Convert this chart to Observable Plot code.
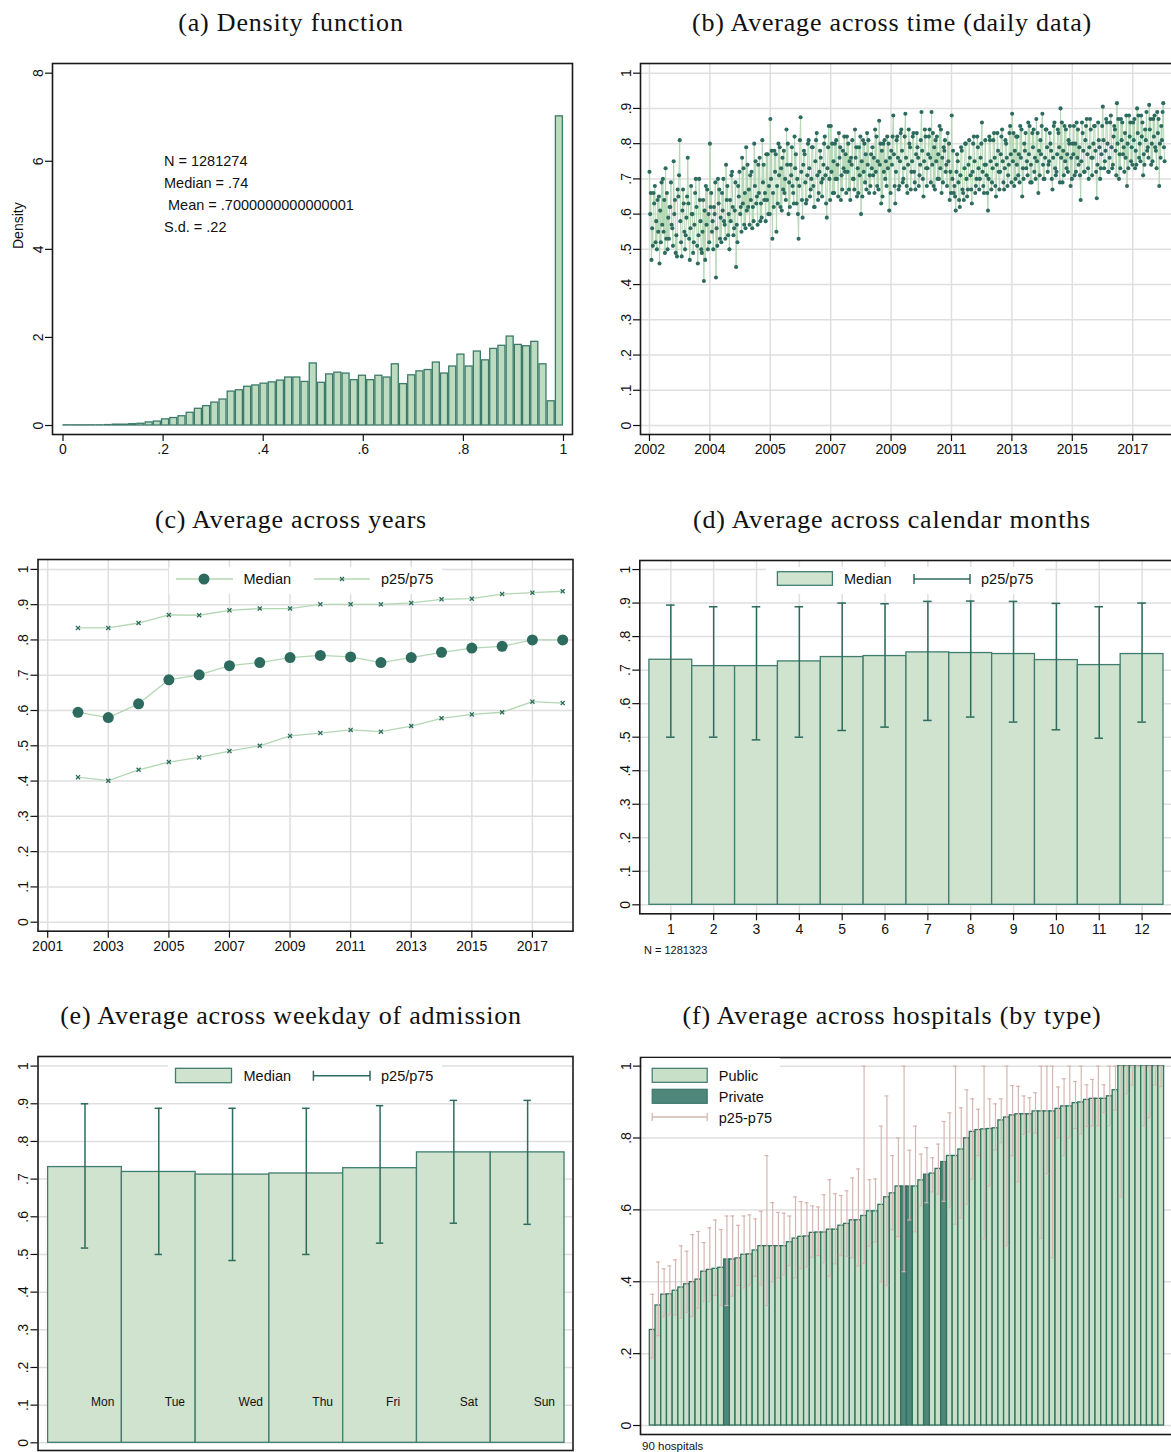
<!DOCTYPE html>
<html><head><meta charset="utf-8">
<script src="https://cdn.jsdelivr.net/npm/d3@7"></script>
<script src="https://cdn.jsdelivr.net/npm/@observablehq/plot@0.6"></script>
<style>
html,body{margin:0;padding:0;background:#fff;overflow:hidden;width:1171px;height:1452px}
#page{position:relative;width:1171px;height:1452px;overflow:hidden;font-family:"Liberation Sans",Arial,sans-serif;color:#111}
.title{position:absolute;font-family:"Liberation Serif","Times New Roman",serif;font-size:26px;letter-spacing:0.8px;white-space:nowrap;transform:translateX(-50%);line-height:30px;color:#111}
.txt{position:absolute;white-space:pre;font-size:14.5px;line-height:18px;color:#111}
</style></head><body><div id="page"></div>
<script>
// ---------------- DATA ----------------
// (a) histogram, 61 equal bins on [0,1]
const histBinCount = 61;
const densityValues = [0.005,0.005,0.005,0.005,0.005,0.01,0.02,0.02,0.03,0.04,
  0.07,0.09,0.14,0.17,0.21,0.29,0.38,0.44,0.52,0.59,
  0.77,0.80,0.88,0.91,0.95,0.98,1.02,1.09,1.09,0.99,
  1.41,0.97,1.16,1.20,1.18,1.03,1.13,1.03,1.13,1.09,
  1.39,0.94,1.14,1.23,1.26,1.43,1.18,1.34,1.61,1.34,
  1.68,1.48,1.74,1.81,2.02,1.83,1.80,1.90,1.39,0.55,7.02];
const densityStats = ["N = 1281274", "Median = .74", " Mean = .7000000000000001", "S.d. = .22"];
const densityXTicks = [0, 0.2, 0.4, 0.6, 0.8, 1];
const densityXLabels = ["0", ".2", ".4", ".6", ".8", "1"];
const densityYTicks = [0, 2, 4, 6, 8];
const densityYLabels = ["0", "2", "4", "6", "8"];

const shareTicks = [0, 0.1, 0.2, 0.3, 0.4, 0.5, 0.6, 0.7, 0.8, 0.9, 1];
const shareLabels = ["0", ".1", ".2", ".3", ".4", ".5", ".6", ".7", ".8", ".9", "1"];

// (b) daily averages (read approximately), days since start of 2002.
// Three interleaved readings of the cloud: its extremes, its core, and its middle band.
const dailyLastDay = 6200;
const dailySpread = [
  0.72,0.47,0.66,0.52,0.64,0.46,0.69,0.55,0.73,0.50,0.62,0.57,0.75,0.49,0.67,0.81,0.48,0.63,0.54,0.76,0.47,0.60,0.52,0.70,0.46,0.64,0.49,0.41,0.68,0.50,
  0.80,0.55,0.62,0.42,0.70,0.53,0.66,0.58,0.74,0.54,0.64,0.72,0.56,0.45,0.68,0.60,0.76,0.57,0.79,0.62,0.71,0.56,0.80,0.63,0.74,0.58,0.81,0.64,0.77,0.60,
  0.87,0.53,0.78,0.55,0.80,0.62,0.76,0.66,0.84,0.60,0.74,0.68,0.82,0.63,0.53,0.875,0.59,0.77,0.64,0.81,0.67,0.79,0.62,0.83,0.66,0.76,0.70,0.82,0.59,0.85,
  0.85,0.66,0.80,0.70,0.83,0.64,0.78,0.72,0.82,0.67,0.76,0.70,0.84,0.65,0.79,0.60,0.81,0.69,0.83,0.66,0.77,0.71,0.84,0.68,0.865,0.63,0.80,0.70,0.82,0.61,
  0.78,0.88,0.63,0.82,0.68,0.84,0.70,0.885,0.66,0.80,0.72,0.83,0.67,0.79,0.71,0.89,0.65,0.82,0.73,0.84,0.89,0.68,0.81,0.70,0.85,0.66,0.79,0.72,0.83,0.64,
  0.88,0.66,0.61,0.75,0.62,0.78,0.64,0.80,0.67,0.76,0.63,0.82,0.68,0.79,0.70,0.86,0.66,0.74,0.61,0.81,0.69,0.83,0.65,0.78,0.72,0.84,0.67,0.80,0.71,0.85,
  0.885,0.68,0.82,0.71,0.85,0.65,0.80,0.73,0.86,0.69,0.83,0.72,0.87,0.66,0.81,0.885,0.70,0.84,0.74,0.80,0.67,0.86,0.72,0.83,0.90,0.69,0.85,0.73,0.81,0.68,
  0.80,0.71,0.86,0.74,0.64,0.83,0.72,0.87,0.70,0.84,0.76,0.85,0.645,0.81,0.73,0.905,0.75,0.86,0.72,0.88,0.74,0.84,0.915,0.70,0.87,0.77,0.83,0.68,0.88,0.75,
  0.86,0.73,0.90,0.76,0.88,0.71,0.84,0.78,0.91,0.74,0.87,0.79,0.89,0.68,0.85,0.915];
const dailyCore = [
  0.60,0.56,0.63,0.58,0.55,0.61,0.57,0.64,0.53,0.59,0.62,0.56,0.60,0.54,0.65,0.58,0.61,0.55,0.59,0.63,0.56,0.60,0.57,0.62,0.54,0.58,0.55,0.61,0.57,0.60,
  0.62,0.58,0.60,0.56,0.63,0.59,0.61,0.57,0.64,0.60,0.58,0.62,0.61,0.57,0.65,0.62,0.63,0.66,0.61,0.67,0.64,0.62,0.68,0.65,0.66,0.63,0.69,0.66,0.64,0.68,
  0.70,0.66,0.72,0.68,0.71,0.73,0.67,0.70,0.74,0.69,0.71,0.66,0.73,0.70,0.68,0.72,0.74,0.69,0.71,0.73,0.70,0.68,0.75,0.71,0.72,0.69,0.74,0.71,0.73,0.70,
  0.72,0.75,0.70,0.74,0.76,0.71,0.73,0.77,0.72,0.75,0.74,0.70,0.76,0.73,0.71,0.75,0.72,0.77,0.74,0.71,0.73,0.76,0.72,0.75,0.74,0.78,0.72,0.75,0.73,0.76,
  0.74,0.77,0.72,0.76,0.75,0.78,0.73,0.76,0.74,0.79,0.75,0.72,0.77,0.76,0.74,0.78,0.75,0.73,0.77,0.76,0.74,0.79,0.75,0.77,0.73,0.76,0.78,0.74,0.75,0.72,
  0.70,0.68,0.72,0.69,0.71,0.67,0.73,0.70,0.74,0.71,0.72,0.75,0.70,0.73,0.76,0.72,0.74,0.71,0.70,0.75,0.73,0.76,0.74,0.72,0.77,0.75,0.73,0.76,0.74,0.77,
  0.75,0.78,0.74,0.77,0.76,0.73,0.78,0.75,0.77,0.74,0.79,0.76,0.75,0.78,0.77,0.74,0.76,0.79,0.75,0.78,0.76,0.73,0.77,0.79,0.76,0.78,0.75,0.77,0.80,0.76,
  0.77,0.80,0.76,0.79,0.75,0.78,0.81,0.77,0.79,0.76,0.80,0.78,0.74,0.79,0.77,0.81,0.78,0.80,0.76,0.79,0.82,0.78,0.80,0.77,0.81,0.79,0.76,0.80,0.82,0.79,
  0.81,0.78,0.83,0.80,0.82,0.77,0.81,0.79,0.84,0.80,0.82,0.78,0.83,0.80,0.81,0.79];
const dailyMiddle = [
  0.66,0.51,0.68,0.50,0.65,0.52,0.70,0.49,0.66,0.53,0.69,0.51,0.64,0.48,0.71,0.52,0.67,0.50,0.65,0.53,0.68,0.49,0.66,0.51,0.70,0.50,0.64,0.47,0.67,0.52,
  0.66,0.50,0.69,0.51,0.67,0.52,0.70,0.53,0.68,0.50,0.71,0.54,0.69,0.52,0.72,0.55,0.73,0.56,0.74,0.57,0.72,0.58,0.75,0.57,0.76,0.59,0.74,0.58,0.77,0.60,
  0.78,0.62,0.77,0.63,0.79,0.61,0.78,0.64,0.80,0.62,0.79,0.63,0.77,0.60,0.81,0.64,0.78,0.63,0.80,0.65,0.79,0.62,0.81,0.64,0.78,0.65,0.80,0.63,0.79,0.64,
  0.80,0.66,0.81,0.65,0.79,0.67,0.82,0.66,0.80,0.64,0.81,0.67,0.79,0.66,0.82,0.65,0.80,0.67,0.81,0.68,0.79,0.66,0.82,0.67,0.80,0.65,0.81,0.68,0.80,0.66,
  0.82,0.68,0.81,0.67,0.83,0.69,0.82,0.68,0.84,0.67,0.82,0.69,0.83,0.68,0.81,0.70,0.84,0.68,0.82,0.69,0.83,0.67,0.82,0.70,0.84,0.69,0.81,0.68,0.80,0.66,
  0.78,0.65,0.77,0.64,0.79,0.66,0.80,0.65,0.81,0.67,0.80,0.66,0.82,0.67,0.80,0.68,0.81,0.66,0.82,0.67,0.81,0.68,0.83,0.67,0.82,0.69,0.81,0.68,0.83,0.69,
  0.83,0.70,0.82,0.69,0.84,0.70,0.83,0.71,0.85,0.69,0.84,0.70,0.83,0.71,0.85,0.70,0.84,0.72,0.83,0.70,0.85,0.71,0.84,0.69,0.86,0.71,0.84,0.72,0.85,0.70,
  0.85,0.72,0.84,0.71,0.86,0.72,0.85,0.73,0.87,0.71,0.85,0.72,0.86,0.70,0.85,0.73,0.87,0.72,0.86,0.73,0.85,0.71,0.87,0.73,0.86,0.72,0.88,0.73,0.86,0.74,
  0.87,0.74,0.88,0.75,0.86,0.74,0.89,0.76,0.87,0.75,0.88,0.73,0.87,0.76,0.89,0.75];
const dailyTickDays = [0, 727, 1454, 2181, 2908, 3635, 4362, 5089, 5816];
const dailyTickLabels = ["2002", "2004", "2005", "2007", "2009", "2011", "2013", "2015", "2017"];

// (c) by year
const years = [2002,2003,2004,2005,2006,2007,2008,2009,2010,2011,2012,2013,2014,2015,2016,2017,2018];
const yearMedian = [0.595,0.580,0.619,0.687,0.701,0.727,0.736,0.750,0.756,0.752,0.736,0.750,0.765,0.777,0.782,0.800,0.800];
const yearP25 = [0.411,0.401,0.432,0.454,0.467,0.485,0.500,0.528,0.536,0.545,0.540,0.556,0.578,0.589,0.595,0.625,0.621];
const yearP75 = [0.834,0.834,0.848,0.871,0.870,0.884,0.889,0.889,0.901,0.901,0.901,0.905,0.915,0.917,0.930,0.934,0.938];
const yearTicks = [2001,2003,2005,2007,2009,2011,2013,2015,2017];
const yearTickLabels = ["2001","2003","2005","2007","2009","2011","2013","2015","2017"];

// (d) by calendar month
const months = [1,2,3,4,5,6,7,8,9,10,11,12];
const monthLabels = ["1","2","3","4","5","6","7","8","9","10","11","12"];
const monthMedian = [0.731,0.712,0.712,0.726,0.739,0.742,0.753,0.751,0.748,0.730,0.715,0.748];
const monthP25 = [0.500,0.500,0.492,0.500,0.520,0.530,0.550,0.560,0.545,0.522,0.497,0.545];
const monthP75 = [0.894,0.889,0.889,0.889,0.900,0.898,0.905,0.906,0.905,0.899,0.889,0.900];
const monthNote = "N = 1281323";

// (e) by weekday
const weekdays = ["Mon","Tue","Wed","Thu","Fri","Sat","Sun"];
const weekdayMedian = [0.732,0.719,0.712,0.715,0.729,0.771,0.771];
const weekdayP25 = [0.517,0.500,0.484,0.500,0.530,0.583,0.580];
const weekdayP75 = [0.900,0.888,0.888,0.888,0.895,0.909,0.909];

// (f) 90 hospitals sorted by median
const hospitalMedian = [0.266,0.334,0.364,0.365,0.375,0.384,0.393,0.399,0.406,0.428,
  0.433,0.436,0.439,0.462,0.462,0.465,0.475,0.476,0.487,0.499,
  0.499,0.499,0.499,0.499,0.510,0.520,0.525,0.526,0.536,0.537,
  0.537,0.545,0.545,0.556,0.561,0.571,0.571,0.583,0.596,0.596,
  0.614,0.635,0.646,0.665,0.665,0.665,0.665,0.682,0.698,0.701,
  0.714,0.733,0.750,0.750,0.768,0.799,0.817,0.822,0.824,0.825,
  0.827,0.849,0.857,0.863,0.866,0.866,0.866,0.874,0.874,0.874,
  0.874,0.881,0.888,0.888,0.897,0.899,0.906,0.909,0.909,0.909,
  0.916,0.933,1,1,1,1,1,1,1,1];
const hospitalP75 = [0.365,0.455,0.436,0.444,0.461,0.500,0.485,0.531,0.540,0.509,
  0.550,0.572,0.545,0.583,0.583,0.557,0.583,0.586,0.575,0.596,
  0.751,0.620,0.593,0.591,0.583,0.636,0.623,0.620,0.611,0.608,
  0.642,0.684,0.645,0.640,0.653,0.689,0.714,1.000,0.684,0.686,
  0.833,0.917,0.751,0.800,1.000,0.766,0.833,0.755,0.773,0.745,
  0.783,0.846,0.870,1.000,0.884,0.934,0.909,0.880,1.000,0.909,
  0.895,0.909,1.000,0.946,0.944,0.917,0.912,0.926,1.000,1.000,
  1.000,0.942,0.965,1.000,0.957,1.000,0.948,0.963,1.000,0.948,
  1,1,1,1,1,1,1,1,1,1];
const hospitalP25 = [0.188,0.250,0.303,0.308,0.308,0.300,0.315,0.304,0.327,0.346,
  0.345,0.362,0.334,0.334,0.360,0.390,0.383,0.390,0.415,0.391,
  0.334,0.400,0.411,0.419,0.445,0.411,0.436,0.442,0.468,0.473,
  0.453,0.415,0.450,0.473,0.471,0.467,0.444,0.451,0.499,0.511,
  0.400,0.390,0.545,0.526,0.428,0.572,0.539,0.611,0.620,0.650,
  0.644,0.624,0.606,0.560,0.577,0.616,0.686,0.751,0.519,0.667,
  0.767,0.787,0.500,0.751,0.678,0.810,0.817,0.814,0.521,0.701,
  0.467,0.800,0.751,0.800,0.826,0.811,0.832,0.834,0.834,0.871,
  0.834,0.878,0.636,0.923,0.948,1.000,0.834,0.857,0.948,0.943];
const privateHospitalRanks = [13, 44, 45, 48, 51];
const hospitalTicks = [0, 0.2, 0.4, 0.6, 0.8, 1];
const hospitalTickLabels = ["0", ".2", ".4", ".6", ".8", "1"];
const hospitalNote = "90 hospitals";

const titles = ["(a) Density function", "(b) Average across time (daily data)", "(c) Average across years",
  "(d) Average across calendar months", "(e) Average across weekday of admission", "(f) Average across hospitals (by type)"];

// ---------------- STYLE / HELPERS ----------------
const page = document.getElementById("page");
const dark = "#2c6b5e";
const gridColor = "#dfdfdf";
const lightLine = "#b3d7b3";
const barFill = "#cfe3cf";
const barStroke = "#3f7d6f";
const pinkBar = "#d5b7b1";
const plotStyle = {fontFamily: '"Liberation Sans", Arial, sans-serif', fontSize: "14px", color: "#111", background: "transparent", overflow: "visible"};

function place(el, left, top) {
  el.style.position = "absolute"; el.style.left = left + "px"; el.style.top = top + "px";
  page.appendChild(el);
}
function yAxisMark(ticks, labels) {
  return Plot.axisY(ticks, {tickFormat: d => labels[ticks.indexOf(d)], tickSize: 7, tickPadding: 3, tickRotate: -90, label: null, fontSize: 14, strokeWidth: 1.2});
}
function xAxisMark(ticks, labels) {
  return Plot.axisX(ticks, {tickFormat: d => labels[ticks.indexOf(d)], tickSize: 7, tickPadding: 3, label: null, fontSize: 14, strokeWidth: 1.2});
}
const frameMark = () => Plot.frame({stroke: "#1a1a1a", strokeWidth: 1.6});
function addTitle(text, cx, top) {
  const d = document.createElement("div"); d.className = "title"; d.textContent = text;
  d.style.left = cx + "px"; d.style.top = top + "px"; page.appendChild(d);
}
function addText(text, left, cy, size) {
  const d = document.createElement("div"); d.className = "txt"; d.textContent = text;
  d.style.left = left + "px"; d.style.top = (cy - 9) + "px"; if (size) d.style.fontSize = size + "px";
  page.appendChild(d);
}
function addLegend(left, top, w, h, inner) {
  const d = document.createElement("div");
  d.style.cssText = `position:absolute;left:${left}px;top:${top}px;width:${w}px;height:${h}px;background:#fff`;
  d.innerHTML = `<svg width="${w}" height="${h}" style="display:block;overflow:visible;font-family:'Liberation Sans',Arial,sans-serif;font-size:14.5px">${inner}</svg>`;
  page.appendChild(d);
}
const T = (x, y, s) => `<text x="${x}" y="${y}" dominant-baseline="central" fill="#111">${s}</text>`;

// ---------------- (a) ----------------
const bins = densityValues.map((v, i) => ({x1: i / histBinCount, x2: (i + 1) / histBinCount, y: v}));
place(Plot.plot({
  width: 585, height: 420, marginLeft: 52, marginRight: 13, marginTop: 13, marginBottom: 36,
  style: plotStyle,
  x: {domain: [-0.021, 1.018]}, y: {domain: [-0.204, 8.22]},
  marks: [
    Plot.rectY(bins, {x1: "x1", x2: "x2", y: "y", fill: "#bddcbf", stroke: "#3d7a6b", strokeWidth: 1.3, insetLeft: 0.6, insetRight: 0.6}),
    frameMark(),
    yAxisMark(densityYTicks, densityYLabels),
    xAxisMark(densityXTicks, densityXLabels),
    Plot.text(["Density"], {text: d => d, frameAnchor: "left", dx: -34, rotate: -90, fontSize: 14})
  ]
}), 0, 50);
densityStats.forEach((s, i) => addText(s, 164, 161 + i * 22));

// ---------------- (b) ----------------
const dailyMerged = [];
dailySpread.forEach((v, i) => { dailyMerged.push(v, dailyCore[i], dailyMiddle[i]); });
const daily = dailyMerged.map((v, i) => ({day: i * dailyLastDay / (dailyMerged.length - 1), v}));
place(Plot.plot({
  width: 600, height: 420, marginLeft: 55, marginRight: 10, marginTop: 13, marginBottom: 36,
  style: plotStyle,
  x: {domain: [-108, 6331]}, y: {domain: [-0.0255, 1.0275]},
  marks: [
    Plot.gridY(shareTicks, {stroke: gridColor, strokeOpacity: 1, strokeWidth: 1.5}),
    Plot.gridX(dailyTickDays, {stroke: gridColor, strokeOpacity: 1, strokeWidth: 1.5}),
    Plot.line(daily, {x: "day", y: "v", stroke: lightLine, strokeWidth: 1}),
    Plot.dot(daily, {x: "day", y: "v", r: 2.05, fill: dark, stroke: "none"}),
    frameMark(),
    yAxisMark(shareTicks, shareLabels),
    xAxisMark(dailyTickDays, dailyTickLabels)
  ]
}), 585, 50);

// ---------------- (c) ----------------
const yearData = years.map((y, i) => ({year: y, med: yearMedian[i], p25: yearP25[i], p75: yearP75[i]}));
place(Plot.plot({
  width: 585, height: 420, marginLeft: 37.5, marginRight: 12.5, marginTop: 19, marginBottom: 29.3,
  style: plotStyle,
  x: {domain: [2000.68, 2018.34]}, y: {domain: [-0.0255, 1.028]},
  marks: [
    Plot.gridY(shareTicks, {stroke: gridColor, strokeOpacity: 1, strokeWidth: 1.5}),
    Plot.gridX(yearTicks, {stroke: gridColor, strokeOpacity: 1, strokeWidth: 1.5}),
    Plot.line(yearData, {x: "year", y: "p75", stroke: lightLine, strokeWidth: 1.3}),
    Plot.line(yearData, {x: "year", y: "p25", stroke: lightLine, strokeWidth: 1.3}),
    Plot.line(yearData, {x: "year", y: "med", stroke: lightLine, strokeWidth: 1.3}),
    Plot.dot(yearData, {x: "year", y: "p75", symbol: "times", r: 2, stroke: dark, strokeWidth: 1.3}),
    Plot.dot(yearData, {x: "year", y: "p25", symbol: "times", r: 2, stroke: dark, strokeWidth: 1.3}),
    Plot.dot(yearData, {x: "year", y: "med", r: 5.5, fill: dark, stroke: "none"}),
    frameMark(),
    yAxisMark(shareTicks, shareLabels),
    xAxisMark(yearTicks, yearTickLabels)
  ]
}), 0, 540);

// ---------------- (d) ----------------
const monthData = months.map((m, i) => ({m, med: monthMedian[i], p25: monthP25[i], p75: monthP75[i]}));
place(Plot.plot({
  width: 600, height: 420, marginLeft: 54.3, marginRight: 10, marginTop: 20, marginBottom: 46.7,
  style: plotStyle,
  x: {domain: [0.276, 12.78]}, y: {domain: [-0.0268, 1.027]},
  marks: [
    Plot.gridY(shareTicks, {stroke: gridColor, strokeOpacity: 1, strokeWidth: 1.5}),
    Plot.gridX(months, {stroke: gridColor, strokeOpacity: 1, strokeWidth: 1.5}),
    Plot.rectY(monthData, {x1: d => d.m - 0.5, x2: d => d.m + 0.5, y: "med", fill: barFill, stroke: barStroke, strokeWidth: 1.3}),
    Plot.ruleX(monthData, {x: "m", y1: "p25", y2: "p75", stroke: dark, strokeWidth: 1.5}),
    Plot.ruleY(monthData, {y: "p75", x1: d => d.m - 0.1, x2: d => d.m + 0.1, stroke: dark, strokeWidth: 1.5}),
    Plot.ruleY(monthData, {y: "p25", x1: d => d.m - 0.1, x2: d => d.m + 0.1, stroke: dark, strokeWidth: 1.5}),
    frameMark(),
    yAxisMark(shareTicks, shareLabels),
    xAxisMark(months, monthLabels)
  ]
}), 585, 540);
addText(monthNote, 644, 950, 11);

// ---------------- (e) ----------------
const weekData = weekdays.map((w, i) => ({i: i + 1, w, med: weekdayMedian[i], p25: weekdayP25[i], p75: weekdayP75[i]}));
place(Plot.plot({
  width: 585, height: 412, marginLeft: 37.5, marginRight: 12.5, marginTop: 16, marginBottom: 2,
  style: plotStyle,
  x: {domain: [0.363, 7.615], axis: null}, y: {domain: [-0.0204, 1.0255]},
  marks: [
    Plot.gridY(shareTicks, {stroke: gridColor, strokeOpacity: 1, strokeWidth: 1.5}),
    Plot.rectY(weekData, {x1: d => d.i - 0.5, x2: d => d.i + 0.5, y: "med", fill: barFill, stroke: barStroke, strokeWidth: 1.3}),
    Plot.ruleX(weekData, {x: "i", y1: "p25", y2: "p75", stroke: dark, strokeWidth: 1.5}),
    Plot.ruleY(weekData, {y: "p75", x1: d => d.i - 0.05, x2: d => d.i + 0.05, stroke: dark, strokeWidth: 1.5}),
    Plot.ruleY(weekData, {y: "p25", x1: d => d.i - 0.05, x2: d => d.i + 0.05, stroke: dark, strokeWidth: 1.5}),
    Plot.text(weekData, {x: "i", text: "w", frameAnchor: "bottom", dy: -45, dx: 6, textAnchor: "start", fontSize: 12, fill: "#111"}),
    frameMark(),
    yAxisMark(shareTicks, shareLabels)
  ]
}), 0, 1040);

// ---------------- (f) ----------------
const hosp = hospitalMedian.map((v, k) => ({k, med: v, p25: hospitalP25[k], p75: hospitalP75[k], priv: privateHospitalRanks.includes(k)}));
place(Plot.plot({
  width: 600, height: 412, marginLeft: 55, marginRight: 10, marginTop: 17, marginBottom: 18,
  style: plotStyle,
  x: {domain: [-1.63, 92.0], axis: null}, y: {domain: [-0.025, 1.024]},
  marks: [
    Plot.gridY(hospitalTicks, {stroke: gridColor, strokeOpacity: 1, strokeWidth: 1.5}),
    Plot.rectY(hosp.filter(d => !d.priv), {x1: "k", x2: d => d.k + 1, y: "med", fill: "#c8e0c8", stroke: "#32705f", strokeWidth: 1.3}),
    Plot.rectY(hosp.filter(d => d.priv), {x1: "k", x2: d => d.k + 1, y: "med", fill: "#4f877b", stroke: "#32705f", strokeWidth: 1.3}),
    Plot.ruleX(hosp, {x: d => d.k + 0.5, y1: "p25", y2: "p75", stroke: pinkBar, strokeWidth: 1.2}),
    Plot.ruleY(hosp, {y: "p75", x1: d => d.k + 0.15, x2: d => d.k + 0.85, stroke: pinkBar, strokeWidth: 1.2}),
    Plot.ruleY(hosp, {y: "p25", x1: d => d.k + 0.15, x2: d => d.k + 0.85, stroke: pinkBar, strokeWidth: 1.2}),
    frameMark(),
    yAxisMark(hospitalTicks, hospitalTickLabels)
  ]
}), 585, 1040);
addText(hospitalNote, 642, 1446, 11.5);

// ---------------- legends ----------------
addLegend(169, 567, 273, 27,
  `<line x1="7" x2="64" y1="12" y2="12" stroke="${lightLine}" stroke-width="1.3"/><circle cx="35" cy="12" r="5.5" fill="${dark}"/>` + T(74.5, 12, "Median") +
  `<line x1="145" x2="201" y1="12" y2="12" stroke="${lightLine}" stroke-width="1.3"/><path d="M171,10L175,14M171,14L175,10" stroke="${dark}" stroke-width="1.3"/>` + T(212, 12, "p25/p75"));
addLegend(766, 567, 279, 27,
  `<rect x="11.4" y="4.7" width="55" height="13.6" fill="${barFill}" stroke="${barStroke}" stroke-width="1.3"/>` + T(78, 12, "Median") +
  `<path d="M148,12H204M148,7V17M204,7V17" stroke="${dark}" stroke-width="1.5" fill="none"/>` + T(215, 12, "p25/p75"));
addLegend(168, 1062, 274, 28,
  `<rect x="7.5" y="6.3" width="56" height="14.4" fill="${barFill}" stroke="${barStroke}" stroke-width="1.3"/>` + T(75.5, 13.7, "Median") +
  `<path d="M145.4,13.7H202M145.4,8.7V18.7M202,8.7V18.7" stroke="${dark}" stroke-width="1.5" fill="none"/>` + T(213, 13.7, "p25/p75"));
addLegend(641.5, 1058, 138, 73,
  `<rect x="10.2" y="10.3" width="55" height="14" fill="#c8e0c8" stroke="#3b776a" stroke-width="1.2"/>` + T(76.8, 17.7, "Public") +
  `<rect x="10.2" y="31.3" width="55" height="14" fill="#4f877b" stroke="#3b776a" stroke-width="1.2"/>` + T(76.8, 38.7, "Private") +
  `<path d="M10.2,59H65.2M10.2,55V63M65.2,55V63" stroke="${pinkBar}" stroke-width="1.3" fill="none"/>` + T(76.8, 59.7, "p25-p75"));

// ---------------- titles ----------------
addTitle(titles[0], 291, 8);
addTitle(titles[1], 892, 8);
addTitle(titles[2], 291, 505);
addTitle(titles[3], 892, 505);
addTitle(titles[4], 291, 1001);
addTitle(titles[5], 892, 1001);
</script></body></html>
